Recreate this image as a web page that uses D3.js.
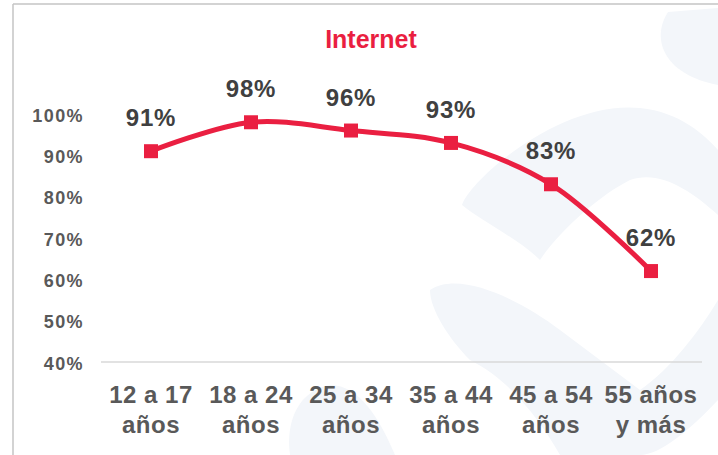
<!DOCTYPE html>
<html>
<head>
<meta charset="utf-8">
<script src="https://cdn.jsdelivr.net/npm/d3@7"></script>
<style>
  body { margin: 0; background: #fff; }
  text { font-family: "Liberation Sans", Arial, sans-serif; font-weight: bold; }
</style>
</head>
<body>
<svg width="718" height="455"></svg>
<script>
const categories = ['12 a 17|años', '18 a 24|años', '25 a 34|años', '35 a 44|años', '45 a 54|años', '55 años|y más'];
const values = [91, 98, 96, 93, 83, 62];
const yTicks = [40, 50, 60, 70, 80, 90, 100];
const title = 'Internet';

const svg = d3.select('svg');
const width = +svg.attr('width');
const height = +svg.attr('height');
const red = '#ea1f41';

// faint watermark shapes in the background
const wm = svg.append('g').attr('fill', '#f3f6fa');
wm.append('path').attr('d', 'M668,12 C650,40 665,75 718,85 L718,8 Z');
wm.append('path').attr('d', 'M462,205 C470,180 560,100 640,108 C680,112 705,135 718,150 L718,215 C690,190 660,170 630,180 C600,195 560,230 540,260 C520,240 480,220 462,205 Z');
wm.append('path').attr('d', 'M430,290 C460,270 520,300 560,330 L640,390 C670,370 700,330 718,300 L718,400 C690,430 660,455 640,455 L560,455 C540,420 510,380 470,360 C450,340 430,310 430,290 Z');
wm.append('path').attr('d', 'M290,455 C285,420 300,390 330,385 C360,385 380,420 395,455 Z');

// frame lines
svg.append('line').attr('x1', 13).attr('x2', 13).attr('y1', 4).attr('y2', height)
  .attr('stroke', '#c4c4c4').attr('stroke-width', 1.5);
svg.append('line').attr('x1', 13).attr('x2', width).attr('y1', 4).attr('y2', 4)
  .attr('stroke', '#c4c4c4').attr('stroke-width', 1.5);

const x = d3.scalePoint()
  .domain(categories)
  .range([101, 701])
  .padding(0.5);
const y = d3.scaleLinear()
  .domain([40, 100])
  .range([362, 114]);

// title
svg.append('text')
  .attr('x', 371).attr('y', 48)
  .attr('text-anchor', 'middle')
  .attr('fill', red)
  .attr('font-size', 25)
  .text(title);

// y axis labels (no axis line)
const yAxis = svg.append('g')
  .attr('transform', 'translate(84,0)')
  .call(d3.axisLeft(y).tickValues(yTicks).tickFormat(d => d + '%').tickSize(0).tickPadding(0));
yAxis.select('.domain').remove();
yAxis.selectAll('text')
  .attr('fill', '#595959')
  .attr('font-size', 18)
  .attr('letter-spacing', 1.4)
  .attr('dy', '0.4em')
  .style('font-family', '"Liberation Sans", Arial, sans-serif')
  .style('font-weight', 'bold');

// x axis baseline
svg.append('line')
  .attr('x1', 101).attr('x2', 702)
  .attr('y1', y(40)).attr('y2', y(40))
  .attr('stroke', '#d9d9d9').attr('stroke-width', 1.5);

// x axis labels, two lines each
const xl = svg.append('g').selectAll('text')
  .data(categories)
  .enter()
  .append('text')
  .attr('text-anchor', 'middle')
  .attr('fill', '#595959')
  .attr('font-size', 24)
  .attr('letter-spacing', 0.5);
xl.each(function (d) {
  const parts = d.split('|');
  const t = d3.select(this);
  parts.forEach((p, i) => {
    t.append('tspan')
      .attr('x', x(d))
      .attr('y', 403 + i * 30)
      .text(p);
  });
});

// line
const line = d3.line()
  .x((d, i) => x(categories[i]))
  .y(d => y(d))
  .curve(d3.curveCatmullRom.alpha(0.5));
svg.append('path')
  .datum(values)
  .attr('d', line)
  .attr('fill', 'none')
  .attr('stroke', red)
  .attr('stroke-width', 5);

// markers
svg.selectAll('.marker')
  .data(values)
  .enter()
  .append('rect')
  .attr('class', 'marker')
  .attr('x', (d, i) => x(categories[i]) - 7)
  .attr('y', d => y(d) - 7)
  .attr('width', 14)
  .attr('height', 14)
  .attr('fill', red);

// data labels
svg.selectAll('.lbl')
  .data(values)
  .enter()
  .append('text')
  .attr('class', 'lbl')
  .attr('x', (d, i) => x(categories[i]))
  .attr('y', d => y(d) - 25)
  .attr('text-anchor', 'middle')
  .attr('fill', '#404040')
  .attr('font-size', 24)
  .attr('letter-spacing', 0.8)
  .text(d => d + '%');
</script>
</body>
</html>
